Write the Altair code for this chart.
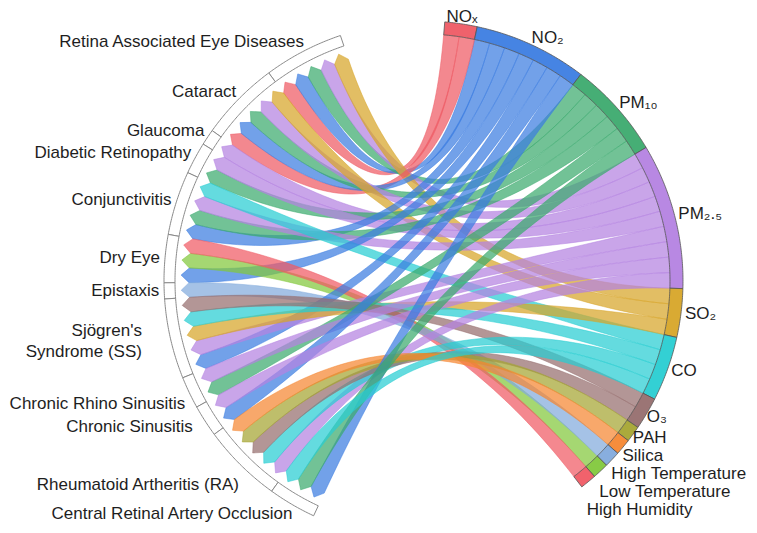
import math
import altair as alt
import pandas as pd

# ---------------- data ----------------
diseases = [
    "Retina Associated Eye Diseases", "Cataract", "Glaucoma", "Diabetic Retinopathy",
    "Conjunctivitis", "Dry Eye", "Epistaxis", "Sjögren's Syndrome (SS)",
    "Chronic Rhino Sinusitis", "Chronic Sinusitis", "Rheumatoid Artheritis (RA)",
    "Central Retinal Artery Occlusion",
]
disease_labels = [
    "Retina Associated Eye Diseases", "Cataract", "Glaucoma", "Diabetic Retinopathy",
    "Conjunctivitis", "Dry Eye", "Epistaxis", "Sjögren's\nSyndrome (SS)",
    "Chronic Rhino Sinusitis", "Chronic Sinusitis", "Rheumatoid Artheritis (RA)",
    "Central Retinal Artery Occlusion",
]
pollutants = [
    "NOx", "NO2", "PM10", "PM2.5", "SO2", "CO", "O3", "PAH", "Silica",
    "High Temperature", "Low Temperature", "High Humidity",
]
pollutant_labels = [
    "NOₓ", "NO₂", "PM₁₀", "PM₂.₅", "SO₂", "CO", "O₃", "PAH", "Silica",
    "High Temperature", "Low Temperature", "High Humidity",
]
pollutant_colors = [
    "#EE5A64", "#3C7DE1", "#3CAA6E", "#B482E1", "#D7A528", "#28CDD2",
    "#966E6E", "#A5A532", "#F58732", "#82AADC", "#82C83C", "#F05A64",
]
# links of each disease (one unit each)
disease_links = [
    ["NOx", "NO2", "PM10", "PM2.5", "SO2"],
    ["NOx", "NO2", "PM10", "PM2.5", "SO2"],
    ["PM2.5"],
    ["PM10", "PM2.5"],
    ["NO2", "PM10", "PM2.5", "CO"],
    ["NO2", "Low Temperature", "High Humidity"],
    ["High Temperature"],
    ["NO2", "PM2.5", "SO2", "CO", "O3"],
    ["PM10", "PM2.5"],
    ["NO2", "PM2.5"],
    ["PM2.5", "CO", "O3", "PAH", "Silica"],
    ["NO2", "PM10", "CO"],
]

# ---------------- layout ----------------
CX, CY = 415.0, 273.0
R_IN_P, R_OUT_P = 247.0, 260.0
R_IN_D, R_OUT_D = 248.0, 259.0
R_TIP, R_SHOULDER = 242.0, 234.0
UNIT_P, UNIT_D = 3.62, 3.59
START_P, TOP_D = 4.8, 341.4
R_LAB_P, R_LAB_D = 267.0, 270.0
FONT_SIZE, LINE_H, MIN_GAP = 17, 21, 18
# hand nudges of a few left labels (dx, dy)
label_nudge = {
    "Sjögren's Syndrome (SS)": (-24, 0),
    "Chronic Sinusitis": (-9, 0),
    "Chronic Rhino Sinusitis": (0, 7),
    "Rheumatoid Artheritis (RA)": (0, 12),
}


def pt(angle, r):
    t = math.radians(angle)
    return [CX + r * math.sin(t), CY - r * math.cos(t)]


def arc_pts(a0, a1, r, step=0.4):
    n = max(2, int(abs(a1 - a0) / step) + 2)
    return [pt(a0 + (a1 - a0) * i / (n - 1), r) for i in range(n)]


def bezier(p0, p2, n=60):
    out = []
    for i in range(n + 1):
        t = i / n
        out.append([(1 - t) ** 2 * p0[0] + 2 * (1 - t) * t * CX + t * t * p2[0],
                    (1 - t) ** 2 * p0[1] + 2 * (1 - t) * t * CY + t * t * p2[1]])
    return out


def feature(ring, **props):
    ring = [[round(x, 2), round(y, 2)] for x, y in ring]
    ring.append(ring[0])
    return {"type": "Feature",
            "geometry": {"type": "Polygon", "coordinates": [ring]},
            "properties": props}


links = [(d, pollutants.index(p)) for d, plist in enumerate(disease_links) for p in plist]
p_count = [sum(1 for _, p in links if p == k) for k in range(len(pollutants))]
d_count = [len(pl) for pl in disease_links]

p_sector = []
a = START_P
for k in range(len(pollutants)):
    p_sector.append((a, a + p_count[k] * UNIT_P))
    a += p_count[k] * UNIT_P

d_sector = []
a = TOP_D
for k in range(len(diseases)):
    d_sector.append((a - d_count[k] * UNIT_D, a))
    a -= d_count[k] * UNIT_D

p_slot = {}
for k in range(len(pollutants)):
    ds = sorted(d for d, p in links if p == k)
    for j, d in enumerate(ds):
        s0 = p_sector[k][0] + j * UNIT_P
        p_slot[(d, k)] = (s0, s0 + UNIT_P)

d_slot = {}
for d in range(len(diseases)):
    ps = sorted(p for dd, p in links if dd == d)
    for j, p in enumerate(ps):
        s0 = d_sector[d][0] + j * UNIT_D
        d_slot[(d, p)] = (s0, s0 + UNIT_D)

ribbon_features = []
for d, p in links:
    p0, p1 = p_slot[(d, p)]
    d0, d1 = d_slot[(d, p)]
    ring = arc_pts(p0, p1, R_IN_P)
    ring += bezier(pt(p1, R_IN_P), pt(d0, R_SHOULDER))[1:]
    ring.append(pt((d0 + d1) / 2, R_TIP))
    ring += bezier(pt(d1, R_SHOULDER), pt(p0, R_IN_P))[:-1]
    ribbon_features.append(feature(ring, pollutant=pollutants[p], disease=diseases[d]))

p_arc_features = []
for k in range(len(pollutants)):
    s0, s1 = p_sector[k]
    ring = arc_pts(s0, s1, R_OUT_P) + arc_pts(s1, s0, R_IN_P)
    p_arc_features.append(feature(ring, pollutant=pollutants[k]))

d_arc_features = []
for k in range(len(diseases)):
    s0, s1 = d_sector[k]
    ring = arc_pts(s0, s1, R_OUT_D) + arc_pts(s1, s0, R_IN_D)
    d_arc_features.append(feature(ring, disease=diseases[k]))

# labels (right side: pushed apart vertically)
right_rows = []
prev_y = -1e9
for k, lab in enumerate(pollutant_labels):
    mid = sum(p_sector[k]) / 2
    x, y = pt(mid, R_LAB_P)
    if y < prev_y + MIN_GAP:
        y = prev_y + MIN_GAP
    prev_y = y
    centered = math.sin(math.radians(mid)) < 0.2
    if not centered:
        x -= 6 if mid > 115 else 3
    right_rows.append({"x": x, "y": y, "label": lab,
                       "pos": "center" if centered else "left"})
right_df = pd.DataFrame(right_rows)

left_rows = []
for k, lab in enumerate(disease_labels):
    mid = sum(d_sector[k]) / 2
    x, y = pt(mid, R_LAB_D)
    nx, ny = label_nudge.get(diseases[k], (0, 0))
    nlines = lab.count("\n") + 1
    left_rows.append({"x": x + 6 + nx, "y": y + ny - (nlines - 1) * LINE_H / 2, "label": lab})
left_df = pd.DataFrame(left_rows)

# ---------------- chart ----------------
proj = dict(type="identity", scale=1, translate=[0, 0])
cscale = alt.Scale(domain=pollutants, range=pollutant_colors)
FONT = "Liberation Sans"
TXT = "#1e1e1e"

ribbons = alt.Chart(alt.Data(values=ribbon_features)).mark_geoshape(
    fillOpacity=0.72, strokeWidth=0.6, strokeOpacity=0.85
).encode(
    color=alt.Color("properties.pollutant:N", scale=cscale, legend=None),
    stroke=alt.Stroke("properties.pollutant:N", scale=cscale, legend=None),
).project(**proj)

p_arcs = alt.Chart(alt.Data(values=p_arc_features)).mark_geoshape(
    stroke="#555555", strokeWidth=0.8, fillOpacity=0.95
).encode(
    color=alt.Color("properties.pollutant:N", scale=cscale, legend=None),
).project(**proj)

d_arcs = alt.Chart(alt.Data(values=d_arc_features)).mark_geoshape(
    fill="white", stroke="#8a8a8a", strokeWidth=1
).project(**proj)

right_left = alt.Chart(right_df).transform_filter("datum.pos == 'left'").mark_text(
    align="left", baseline="middle", font=FONT, fontSize=FONT_SIZE, color=TXT
).encode(longitude="x:Q", latitude="y:Q", text="label:N").project(**proj)

right_center = alt.Chart(right_df).transform_filter("datum.pos == 'center'").mark_text(
    align="center", baseline="middle", font=FONT, fontSize=FONT_SIZE, color=TXT
).encode(longitude="x:Q", latitude="y:Q", text="label:N").project(**proj)

left_text = alt.Chart(left_df).mark_text(
    align="right", baseline="middle", font=FONT, fontSize=FONT_SIZE, color=TXT,
    lineBreak="\n", lineHeight=LINE_H
).encode(longitude="x:Q", latitude="y:Q", text="label:N").project(**proj)

chart = alt.layer(ribbons, p_arcs, d_arcs, right_left, right_center, left_text).properties(
    width=741, height=517, padding=0, autosize="none"
).configure_view(strokeWidth=0)

chart.save("out.html", embed_options={"renderer": "svg", "actions": False})
